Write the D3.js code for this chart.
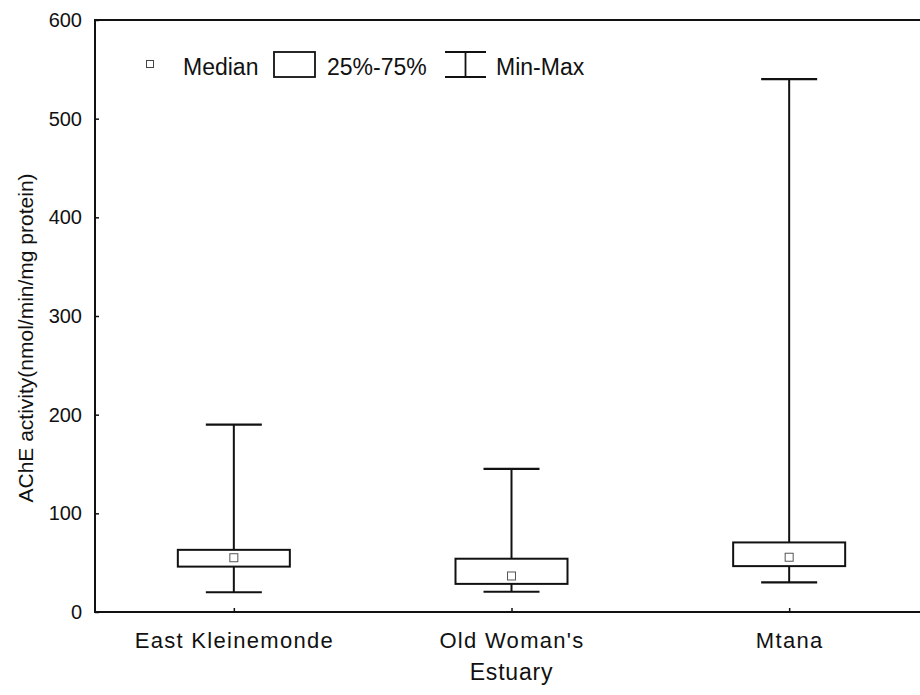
<!DOCTYPE html>
<html>
<head>
<meta charset="utf-8">
<script src="https://cdn.jsdelivr.net/npm/d3@7"></script>
<style>
  html, body { margin: 0; padding: 0; background: #fff; }
  svg { display: block; font-family: "Liberation Sans", Arial, Helvetica, sans-serif; }
</style>
</head>
<body>
<svg id="chart" width="920" height="695"></svg>
<script>
// ---- data ----
const categories = ["East Kleinemonde", "Old Woman's", "Mtana"];
const minValues    = [20, 20.5, 30];
const q1Values     = [46, 28.5, 46.5];
const medianValues = [55, 36.5, 55.5];
const q3Values     = [63, 54, 70.5];
const maxValues    = [190, 145, 540];
const yTicks = [0, 100, 200, 300, 400, 500, 600];
const xTitle = "Estuary";
const yTitle = "AChE activity(nmol/min/mg protein)";
const legendLabels = ["Median", "25%-75%", "Min-Max"];

// ---- layout ----
const svg = d3.select("#chart");
const mLeft = 95, mTop = 20, mBottom = 612, mRight = 928;

const x = d3.scalePoint().domain(categories).range([mLeft, mRight]).padding(0.5);
const y = d3.scaleLinear().domain([0, 600]).range([mBottom, mTop]);

const boxW = 112, capW = 56, medS = 8;

// frame
svg.append("rect")
  .attr("x", mLeft).attr("y", mTop)
  .attr("width", mRight - mLeft).attr("height", mBottom - mTop)
  .attr("fill", "none").attr("stroke", "#111").attr("stroke-width", 2);

// y axis (ticks inside)
const yAxis = d3.axisLeft(y).tickValues(yTicks).tickSize(-4).tickPadding(13).tickFormat(d3.format("d"));
const gy = svg.append("g").attr("transform", `translate(${mLeft},0)`).call(yAxis);
gy.select(".domain").remove();
gy.selectAll("line").attr("stroke", "#111").attr("stroke-width", 1.5);
gy.selectAll("text").attr("font-size", 20).attr("fill", "#111")
  .attr("font-family", "Liberation Sans, Arial, sans-serif");

// x axis (ticks inside)
const xAxis = d3.axisBottom(x).tickSize(-4).tickPadding(20);
const gx = svg.append("g").attr("transform", `translate(0,${mBottom})`).call(xAxis);
gx.select(".domain").remove();
gx.selectAll("line").attr("stroke", "#111").attr("stroke-width", 1.5);
gx.selectAll("text").attr("font-size", 22).attr("fill", "#111")
  .attr("font-family", "Liberation Sans, Arial, sans-serif")
  .attr("letter-spacing", 1.3);

// axis titles
svg.append("text")
  .attr("x", x(categories[1])).attr("y", 680)
  .attr("text-anchor", "middle").attr("font-size", 23).attr("fill", "#111")
  .attr("letter-spacing", 0.8)
  .text(xTitle);

svg.append("text")
  .attr("transform", `translate(33,338) rotate(-90)`)
  .attr("text-anchor", "middle").attr("font-size", 21).attr("fill", "#111")
  .text(yTitle);

// boxes
const data = categories.map((c, i) => ({
  c, min: minValues[i], q1: q1Values[i], med: medianValues[i], q3: q3Values[i], max: maxValues[i]
}));

const g = svg.append("g").attr("stroke", "#111").attr("fill", "none");
data.forEach(d => {
  const cx = x(d.c);
  g.append("line").attr("x1", cx).attr("x2", cx).attr("y1", y(d.max)).attr("y2", y(d.q3)).attr("stroke-width", 2);
  g.append("line").attr("x1", cx).attr("x2", cx).attr("y1", y(d.q1)).attr("y2", y(d.min)).attr("stroke-width", 2);
  g.append("line").attr("x1", cx - capW / 2).attr("x2", cx + capW / 2).attr("y1", y(d.max)).attr("y2", y(d.max)).attr("stroke-width", 2.2);
  g.append("line").attr("x1", cx - capW / 2).attr("x2", cx + capW / 2).attr("y1", y(d.min)).attr("y2", y(d.min)).attr("stroke-width", 2.2);
  g.append("rect").attr("x", cx - boxW / 2).attr("y", y(d.q3))
    .attr("width", boxW).attr("height", y(d.q1) - y(d.q3))
    .attr("fill", "#fff").attr("stroke-width", 2);
  g.append("rect").attr("x", cx - medS / 2).attr("y", y(d.med) - medS / 2)
    .attr("width", medS).attr("height", medS)
    .attr("fill", "#fff").attr("stroke", "#555").attr("stroke-width", 1);
});

// legend
const lg = svg.append("g");
lg.append("rect").attr("x", 146.5).attr("y", 60.5).attr("width", 7).attr("height", 7)
  .attr("fill", "#fff").attr("stroke", "#444").attr("stroke-width", 1);
lg.append("text").attr("x", 183).attr("y", 75).attr("font-size", 23).attr("fill", "#111").text(legendLabels[0]);
lg.append("rect").attr("x", 274).attr("y", 52).attr("width", 41).attr("height", 25)
  .attr("fill", "#fff").attr("stroke", "#111").attr("stroke-width", 1.8);
lg.append("text").attr("x", 327).attr("y", 75).attr("font-size", 23).attr("fill", "#111").text(legendLabels[1]);
lg.append("line").attr("x1", 445).attr("x2", 486).attr("y1", 52).attr("y2", 52).attr("stroke", "#111").attr("stroke-width", 1.8);
lg.append("line").attr("x1", 445).attr("x2", 486).attr("y1", 77).attr("y2", 77).attr("stroke", "#111").attr("stroke-width", 1.8);
lg.append("line").attr("x1", 465.5).attr("x2", 465.5).attr("y1", 52).attr("y2", 77).attr("stroke", "#111").attr("stroke-width", 1.8);
lg.append("text").attr("x", 496).attr("y", 75).attr("font-size", 23).attr("fill", "#111").text(legendLabels[2]);
</script>
</body>
</html>
